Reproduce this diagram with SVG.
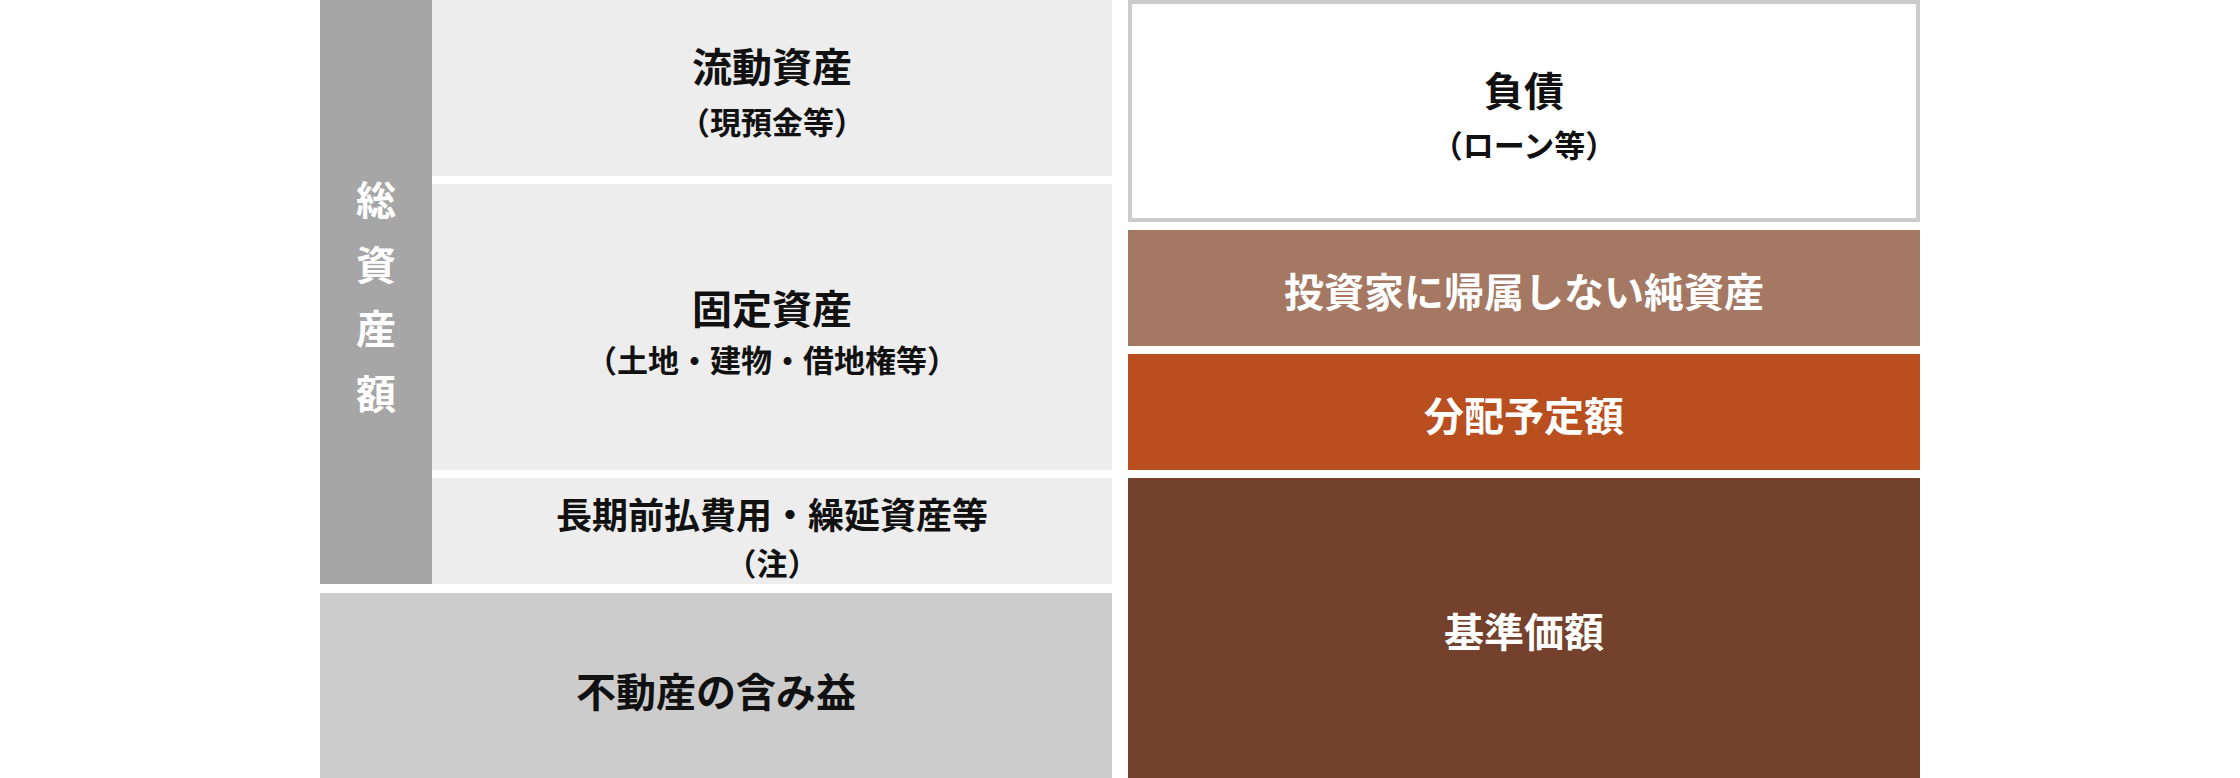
<svg xmlns="http://www.w3.org/2000/svg" width="2240" height="778" viewBox="0 0 2240 778">
<style>
text{font-family:"Noto Sans CJK JP","Noto Sans CJK SC",sans-serif;font-weight:700;text-anchor:middle;dominant-baseline:central}
.dk{fill:#111111}
.wh{fill:#ffffff}
.t{font-size:40px}
.s{font-size:31px}
.m{font-size:36px}
.light{fill:#ededed}
</style>
<rect width="2240" height="778" fill="#ffffff"/>
<g id="total-assets">
<rect x="320" y="0" width="112" height="584" fill="#a6a6a6"/>
<text class="wh t" x="376" y="198">総</text>
<text class="wh t" x="376" y="263">資</text>
<text class="wh t" x="376" y="327">産</text>
<text class="wh t" x="376" y="392">額</text>
</g>
<g id="current-assets">
<rect class="light" x="432" y="0" width="680" height="176"/>
<text class="dk t" x="772" y="65">流動資産</text>
<text class="dk s" x="772" y="120">（現預金等）</text>
</g>
<g id="fixed-assets">
<rect class="light" x="432" y="184" width="680" height="286"/>
<text class="dk t" x="772" y="307">固定資産</text>
<text class="dk s" x="772" y="358">（土地・建物・借地権等）</text>
</g>
<g id="prepaid">
<rect class="light" x="432" y="478" width="680" height="106"/>
<text class="dk m" x="772" y="513">長期前払費用・繰延資産等</text>
<text class="dk s" x="772" y="561">（注）</text>
</g>
<g id="unrealized-gain">
<rect x="320" y="593" width="792" height="185" fill="#cccccc"/>
<text class="dk t" x="716" y="690">不動産の含み益</text>
</g>
<g id="liabilities">
<rect x="1130" y="2" width="788" height="218" fill="#ffffff" stroke="#cccccc" stroke-width="4"/>
<text class="dk t" x="1524" y="89">負債</text>
<text class="dk s" x="1524" y="143">（ローン等）</text>
</g>
<g id="non-investor-net-assets">
<rect x="1128" y="230" width="792" height="116" fill="#a57864"/>
<text class="wh t" x="1524" y="290">投資家に帰属しない純資産</text>
</g>
<g id="distribution">
<rect x="1128" y="354" width="792" height="116" fill="#b94e1e"/>
<text class="wh t" x="1524" y="414">分配予定額</text>
</g>
<g id="nav">
<rect x="1128" y="478" width="792" height="300" fill="#74412c"/>
<text class="wh t" x="1524" y="630">基準価額</text>
</g>
<g id="connectors"></g>
</svg>
